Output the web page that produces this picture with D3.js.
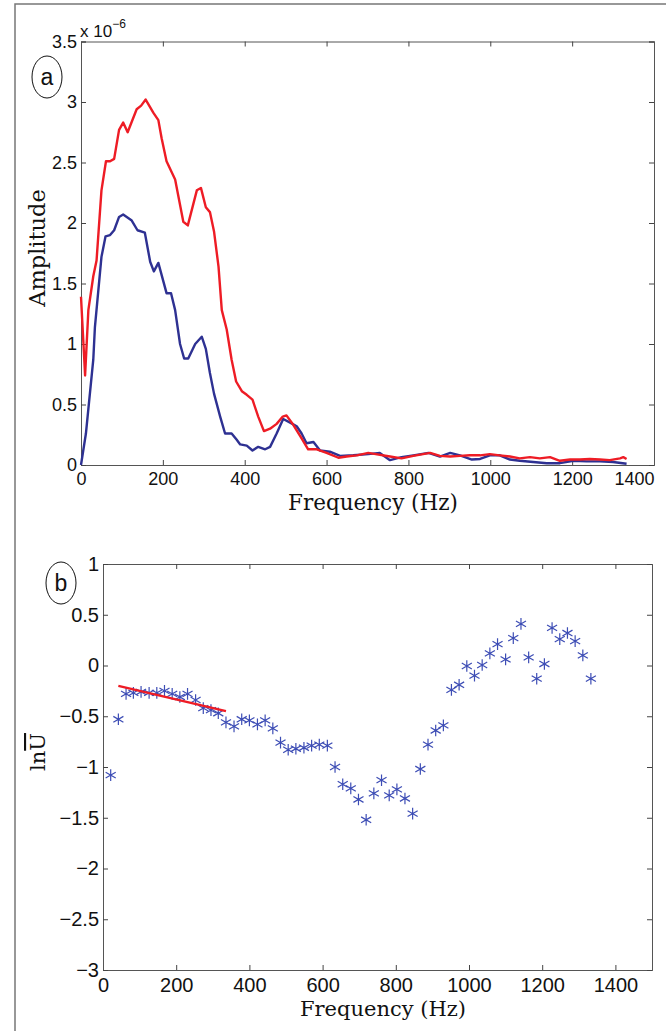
<!DOCTYPE html>
<html><head><meta charset="utf-8">
<script src="https://cdn.jsdelivr.net/npm/d3@7"></script>
<style>body{margin:0;background:#fff}svg{display:block}</style>
</head><body>
<script>
// Panel (a) data: frequency (Hz) and amplitude (x 1e-6)
const redFreq = [0,10,18,30,38,50,61,71,81,93,103,114,136,147,158,177,189,197,209,230,250,261,283,293,305,315,325,336,344,356,368,379,393,405,419,433,447,462,478,493,502,519,539,555,576,600,629,649,674,702,720,755,783,812,853,877,902,926,950,975,999,1023,1048,1072,1097,1121,1146,1170,1195,1219,1243,1268,1292,1317,1325,1333];
const redAmp  = [1.39,0.74,1.28,1.56,1.69,2.27,2.51,2.51,2.53,2.77,2.83,2.75,2.94,2.97,3.02,2.91,2.85,2.70,2.51,2.36,2.01,1.98,2.27,2.29,2.13,2.09,1.93,1.64,1.28,1.12,0.87,0.69,0.61,0.58,0.54,0.40,0.28,0.30,0.34,0.40,0.41,0.33,0.22,0.13,0.13,0.10,0.06,0.07,0.08,0.10,0.09,0.07,0.055,0.075,0.10,0.075,0.07,0.075,0.08,0.08,0.09,0.08,0.07,0.055,0.065,0.055,0.065,0.035,0.045,0.045,0.05,0.045,0.04,0.055,0.065,0.05];
const blueFreq = [0,12,30,34,50,60,71,81,93,103,124,138,156,169,178,189,209,220,230,242,252,262,279,295,305,315,325,340,352,368,380,389,405,419,433,450,462,478,494,511,527,539,551,568,584,608,633,665,702,730,755,783,812,849,877,902,926,955,975,999,1023,1048,1072,1105,1138,1170,1203,1235,1268,1300,1333];
const blueAmp  = [0,0.26,0.87,1.14,1.72,1.89,1.90,1.94,2.05,2.07,2.02,1.94,1.92,1.68,1.60,1.67,1.42,1.42,1.28,1.0,0.88,0.88,1.0,1.06,0.96,0.76,0.59,0.40,0.26,0.26,0.21,0.17,0.16,0.12,0.15,0.13,0.15,0.26,0.38,0.35,0.32,0.26,0.18,0.19,0.12,0.11,0.075,0.08,0.09,0.10,0.04,0.065,0.08,0.10,0.07,0.10,0.08,0.045,0.05,0.08,0.08,0.045,0.035,0.025,0.015,0.015,0.035,0.03,0.03,0.025,0.01];
const xTicksA = [0,200,400,600,800,1000,1200,1400];
const yTicksA = [0,0.5,1,1.5,2,2.5,3,3.5];

// Panel (b) data: frequency (Hz) and ln(U-bar)
const ptFreq = [21,42,63,83,104,126,147,168,189,210,231,253,274,295,315,336,358,379,400,422,443,464,485,506,527,549,570,591,613,634,655,677,698,719,740,761,782,803,825,846,867,888,909,930,952,973,994,1015,1036,1057,1078,1100,1121,1142,1163,1185,1206,1227,1248,1269,1290,1311,1333];
const ptVal  = [-1.08,-0.53,-0.28,-0.27,-0.26,-0.27,-0.27,-0.25,-0.28,-0.31,-0.28,-0.34,-0.42,-0.44,-0.47,-0.56,-0.60,-0.53,-0.54,-0.58,-0.54,-0.62,-0.76,-0.83,-0.82,-0.81,-0.79,-0.78,-0.79,-1.00,-1.17,-1.21,-1.32,-1.52,-1.26,-1.13,-1.28,-1.22,-1.31,-1.46,-1.02,-0.78,-0.64,-0.59,-0.24,-0.19,-0.005,-0.10,0.005,0.12,0.21,0.06,0.27,0.41,0.08,-0.13,0.015,0.37,0.26,0.32,0.24,0.10,-0.13];
const fitFreq = [42,336];
const fitVal  = [-0.20,-0.45];
const xTicksB = [0,200,400,600,800,1000,1200,1400];
const yTicksB = [1,0.5,0,-0.5,-1,-1.5,-2,-2.5,-3];

const W = 666, H = 1031;
const svg = d3.select("body").append("svg").attr("width", W).attr("height", H);
const sans = "'Liberation Sans', Arial, sans-serif";
const serif = "'DejaVu Serif', serif";
const fmt = d => d < 0 ? "\u2212" + Math.abs(d) : String(d);

// figure border
svg.append("path").attr("d", `M15,${H+5} L15,4 L${W+5},4`).attr("fill","none").attr("stroke","#777").attr("stroke-width",1.5);

function frame(g, x, y, L, R, T, B, xt, yt, fs, pad, lastRight) {
  const ax = g.append("g").attr("transform", `translate(0,${B})`)
    .call(d3.axisBottom(x).tickValues(xt).tickSize(-5).tickPadding(pad).tickFormat(d3.format("d")));
  ax.selectAll("text").attr("font-family", sans).attr("font-size", fs).attr("fill","#111");
  if (lastRight) ax.selectAll(".tick").filter(d => d === xt[xt.length-1]).select("text").attr("text-anchor","end");
  const axT = g.append("g").attr("transform", `translate(0,${T})`)
    .call(d3.axisTop(x).tickValues(xt).tickSize(-5).tickFormat(""));
  const ay = g.append("g").attr("transform", `translate(${L},0)`)
    .call(d3.axisLeft(y).tickValues(yt).tickSize(-5).tickPadding(4).tickFormat(fmt));
  ay.selectAll("text").attr("font-family", sans).attr("font-size", fs).attr("fill","#111");
  const ayR = g.append("g").attr("transform", `translate(${R},0)`)
    .call(d3.axisRight(y).tickValues(yt).tickSize(-5).tickFormat(""));
  [ax, axT, ay, ayR].forEach(a => { a.selectAll("path,line").attr("stroke","#444").attr("stroke-width",1); a.select(".domain").attr("stroke","#555"); });
}

// ---- Panel a ----
{
  const L = 81, R = 654, T = 41.5, B = 465;
  const x = d3.scaleLinear().domain([0,1400]).range([L,R]);
  const y = d3.scaleLinear().domain([0,3.5]).range([B,T]);
  const g = svg.append("g");
  frame(g, x, y, L, R, T, B, xTicksA, yTicksA, 18, 7, true);
  const line = d3.line().x(d => x(d[0])).y(d => y(d[1]));
  g.append("path").datum(blueFreq.map((f,i)=>[f,blueAmp[i]])).attr("d", line)
    .attr("fill","none").attr("stroke","#2e3192").attr("stroke-width",2.4).attr("stroke-linejoin","round");
  g.append("path").datum(redFreq.map((f,i)=>[f,redAmp[i]])).attr("d", line)
    .attr("fill","none").attr("stroke","#ee1c25").attr("stroke-width",2.4).attr("stroke-linejoin","round");
  // exponent
  const ex = g.append("text").attr("x", 80).attr("y", 37).attr("font-family", sans).attr("font-size", 17).attr("fill","#111");
  ex.append("tspan").text("x 10");
  ex.append("tspan").attr("dy",-9).attr("font-size",12).text("\u22126");
  // labels
  g.append("text").attr("x", 373).attr("y", 510).attr("text-anchor","middle").attr("font-family", serif).attr("font-size", 21.5).attr("fill","#111").text("Frequency (Hz)");
  g.append("text").attr("transform","translate(45,248) rotate(-90)").attr("text-anchor","middle").attr("font-family", serif).attr("font-size", 22.5).attr("fill","#111").text("Amplitude");
  g.append("ellipse").attr("cx",47).attr("cy",77).attr("rx",15).attr("ry",21).attr("fill","none").attr("stroke","#111").attr("stroke-width",1);
  g.append("text").attr("x",47).attr("y",85).attr("text-anchor","middle").attr("font-family", sans).attr("font-size",23).attr("fill","#111").text("a");
}

// ---- Panel b ----
{
  const L = 103, R = 652, T = 564, B = 970;
  const x = d3.scaleLinear().domain([0,1500]).range([L,R]);
  const y = d3.scaleLinear().domain([-3,1]).range([B,T]);
  const g = svg.append("g");
  frame(g, x, y, L, R, T, B, xTicksB, yTicksB, 20, 8, false);
  const star = d3.symbol().type(d3.symbolAsterisk).size(95);
  g.append("g").selectAll("path").data(ptFreq.map((f,i)=>[f,ptVal[i]])).join("path")
    .attr("transform", d => `translate(${x(d[0])},${y(d[1])})`)
    .attr("d", star).attr("fill","none").attr("stroke","#3d4db5").attr("stroke-width",1.2);
  g.append("path").datum(fitFreq.map((f,i)=>[f,fitVal[i]])).attr("d", d3.line().x(d=>x(d[0])).y(d=>y(d[1])))
    .attr("stroke","#ee1c25").attr("stroke-width",2.4).attr("fill","none");
  g.append("text").attr("x", 383).attr("y", 1016).attr("text-anchor","middle").attr("font-family", serif).attr("font-size", 21).attr("fill","#111").text("Frequency (Hz)");
  const yl = g.append("text").attr("transform","translate(45,752) rotate(-90)").attr("text-anchor","middle").attr("font-family", serif).attr("font-size", 21).attr("fill","#111");
  yl.append("tspan").text("ln");
  yl.append("tspan").attr("text-decoration","overline").text("U");
  g.append("ellipse").attr("cx",61).attr("cy",583).attr("rx",15).attr("ry",21).attr("fill","none").attr("stroke","#111").attr("stroke-width",1);
  g.append("text").attr("x",61).attr("y",591).attr("text-anchor","middle").attr("font-family", sans).attr("font-size",23).attr("fill","#111").text("b");
}
</script>
</body></html>
